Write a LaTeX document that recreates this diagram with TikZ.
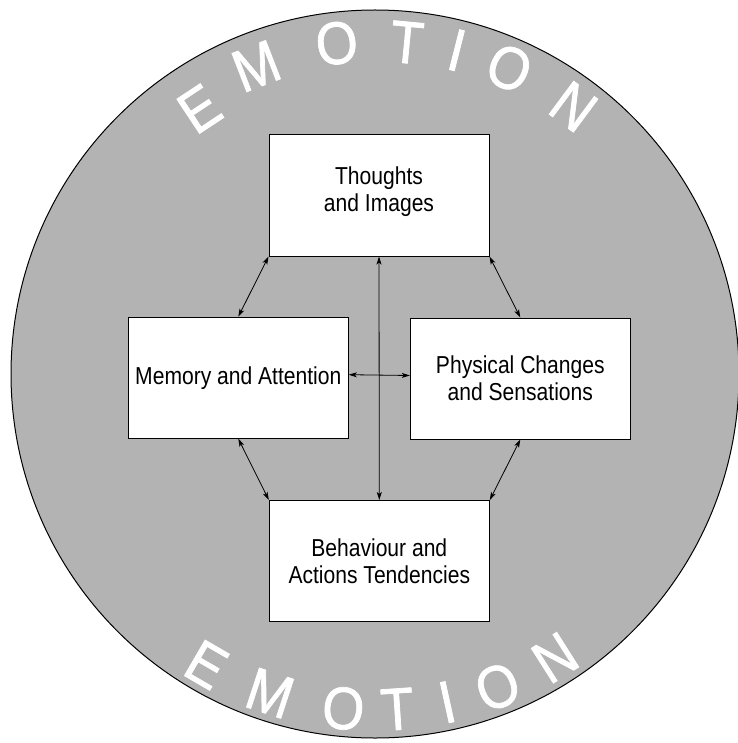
\documentclass[tikz,border=0pt]{standalone}
\usepackage{fontspec}
\newfontfamily\boxfont{Liberation Sans}[FakeStretch=0.86]
\newfontfamily\emofont{Liberation Sans}[FakeStretch=0.9,FakeBold=1.2]
\usetikzlibrary{arrows.meta}
\definecolor{circgray}{RGB}{179,179,179}
\begin{document}
\begin{tikzpicture}[x=1pt,y=-1pt,
  stepbox/.style={draw=black, line width=1pt, fill=white, minimum width=220pt,
    minimum height=121pt, inner sep=0pt, align=center,
    font=\boxfont\fontsize{24.5}{27}\selectfont},
  link/.style={line width=0.8pt,
    {Stealth[length=8pt,width=5pt,inset=2pt]}-{Stealth[length=8pt,width=5pt,inset=2pt]}},
  emo/.style={text=white, font=\emofont\fontsize{60}{60}\selectfont, inner sep=0pt}]
\useasboundingbox (0,0) rectangle (737,743);
\filldraw[fill=circgray, draw=black, line width=1pt] (375,374) circle[radius=364pt];
% top word
\foreach \l/\a/\r/\n in {E/123.5/318/te, M/111.1/330/tm, O/96.6/333/to, T/84.5/333/tt, I/75.8/334/ti, O/66.3/334/tp, N/53.4/333/tn}
  \node[emo, rotate=\a-90] (\n) at ([shift={(375,374)}]\a:\r pt) {\l};
% bottom word
\foreach \l/\a/\n in {E/-120.1/be, M/-108.2/bm, O/-95.4/bo, T/-86.2/bt, I/-77.6/bi, O/-68.6/bp, N/-57.6/bn}
  \node[emo, rotate=\a+90] (\n) at ([shift={(375,374)}]\a:336pt) {\l};
% boxes
\node[stepbox] (T) at (379,195.5) {Thoughts\\and Images\\[-14pt]\mbox{}};
\node[stepbox] (M) at (238.3,377.7) {Memory and Attention};
\node[stepbox] (P) at (520.3,378.5) {Physical Changes\\and Sensations};
\node[stepbox] (B) at (379.3,561) {Behaviour and\\Actions Tendencies};
% connectors
\draw[link] (T.south west) -- (M.north);
\draw[link] (T.south east) -- (P.north);
\draw[link] (T.south) -- (B.north);
\draw[link] ([yshift=3pt]M.east) -- ([yshift=3pt]P.west);
\draw[link] (M.south) -- (B.north west);
\draw[link] (P.south) -- (B.north east);
\end{tikzpicture}
\end{document}
